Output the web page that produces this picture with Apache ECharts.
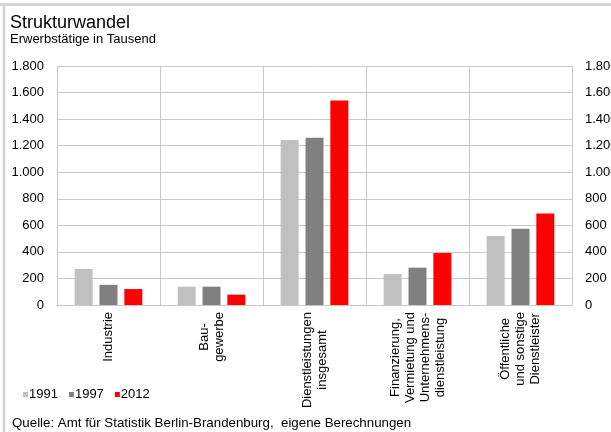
<!DOCTYPE html>
<html>
<head>
<meta charset="utf-8">
<script src="https://cdn.jsdelivr.net/npm/echarts@6/dist/echarts.min.js"></script>
<style>
html,body{margin:0;padding:0;background:#fff;}
#chart{width:611px;height:432px;}
</style>
</head>
<body>
<div id="chart"></div>
<script>
var categories = [
  "Industrie",
  "Bau-\ngewerbe",
  "Dienstleistungen\ninsgesamt",
  "Finanzierung,\nVermietung und\nUnternehmens-\ndienstleistung",
  "Öffentliche\nund sonstige\nDienstleister"
];
var seriesNames = ["1991", "1997", "2012"];
var values1991 = [271, 138, 1243, 233, 520];
var values1997 = [152, 138, 1260, 281, 575];
var values2012 = [120, 78, 1541, 392, 690];
var seriesColors = ["#c0c0c0", "#808080", "#ff0000"];
var yMax = 1800, yStep = 200;

function fmtDE(v) {
  var s = String(Math.round(v));
  return s.replace(/\B(?=(\d{3})+(?!\d))/g, ".");
}

var FONT = "'Liberation Sans', Arial, sans-serif";
var chart = echarts.init(document.getElementById('chart'), null, {renderer: 'canvas'});

function catLabel(v) {
  return v.split("\n").map(function (l) { return "{c|" + l + "}"; }).join("\n");
}

var dataSets = [values1991, values1997, values2012];
var series = seriesNames.map(function (n, i) {
  return {
    name: n,
    type: 'bar',
    data: dataSets[i],
    barWidth: 18,
    barGap: '38%',
    itemStyle: { color: seriesColors[i] },
    emphasis: { disabled: true }
  };
});

var option = {
  animation: false,
  textStyle: { fontFamily: FONT },
  title: [
    { text: "Strukturwandel", left: 5, top: 9, textStyle: { fontFamily: FONT, fontSize: 18, fontWeight: 'normal', color: '#000' } },
    { text: "Erwerbstätige in Tausend", left: 5, top: 28, textStyle: { fontFamily: FONT, fontSize: 13, fontWeight: 'normal', color: '#000' } },
    { text: "Quelle: Amt für Statistik Berlin-Brandenburg,  eigene Berechnungen", left: 7, top: 412, textStyle: { fontFamily: FONT, fontSize: 13.3, fontWeight: 'normal', color: '#000' } }
  ],
  legend: {
    data: seriesNames,
    left: 18, top: 383,
    icon: 'rect', itemWidth: 5, itemHeight: 5, itemGap: 11,
    textStyle: { fontFamily: FONT, fontSize: 13, color: '#000', padding: [0, 0, 0, -4] }
  },
  graphic: [
    { type: 'line', shape: { x1: 0, y1: 4.5, x2: 611, y2: 4.5 }, style: { stroke: '#d4d4d4', lineWidth: 3 } },
    { type: 'line', shape: { x1: 4, y1: 3, x2: 4, y2: 432 }, style: { stroke: '#d4d4d4', lineWidth: 2.5 } }
  ],
  grid: { left: 57, right: 39, top: 66, bottom: 127, containLabel: false, outerBoundsMode: 'none' },
  xAxis: {
    type: 'category',
    data: categories,
    axisLine: { show: true, lineStyle: { color: '#c8c8c8', width: 1 } },
    axisTick: { show: false },
    splitLine: { show: true, lineStyle: { color: '#c8c8c8', width: 1 } },
    axisLabel: {
      interval: 0, rotate: 90, margin: 7,
      fontFamily: FONT, fontSize: 13, color: '#000', lineHeight: 15,
      formatter: catLabel,
      rich: { c: { align: 'center', fontFamily: FONT, fontSize: 13, color: '#000', lineHeight: 15 } }
    }
  },
  yAxis: [
    {
      type: 'value', min: 0, max: yMax, interval: yStep, position: 'left',
      axisLine: { show: true, lineStyle: { color: '#c8c8c8' } },
      axisTick: { show: false },
      splitLine: { show: true, lineStyle: { color: '#c8c8c8', width: 1 } },
      axisLabel: { margin: 13, fontFamily: FONT, fontSize: 13, color: '#000', formatter: fmtDE }
    },
    {
      type: 'value', min: 0, max: yMax, interval: yStep, position: 'right',
      axisLine: { show: true, lineStyle: { color: '#c8c8c8' } },
      axisTick: { show: false },
      splitLine: { show: false },
      axisLabel: { margin: 13, fontFamily: FONT, fontSize: 13, color: '#000', formatter: fmtDE }
    }
  ],
  series: series
};
chart.setOption(option);
</script>
</body>
</html>
